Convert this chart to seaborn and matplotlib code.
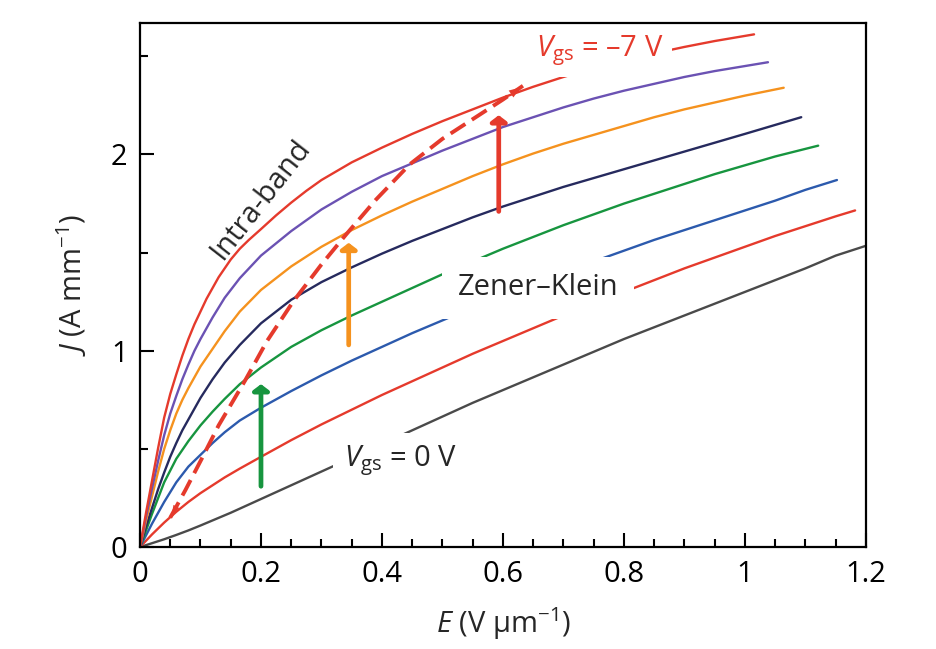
import numpy as np
import pandas as pd
import seaborn as sns
import matplotlib.pyplot as plt
from matplotlib.ticker import MultipleLocator

# J-E curves, from Vgs = 0 V (bottom) to Vgs = -7 V (top)
e_gray = [0, 0.02, 0.04, 0.06, 0.08, 0.1, 0.15, 0.2, 0.25, 0.3, 0.35, 0.4, 0.45, 0.5, 0.55, 0.6, 0.65,
          0.7, 0.75, 0.8, 0.85, 0.9, 0.95, 1.0, 1.05, 1.1, 1.15, 1.2]
j_gray = [0, 0.02, 0.04, 0.062, 0.085, 0.11, 0.175, 0.245, 0.315, 0.385, 0.455, 0.525, 0.595, 0.665, 0.735,
          0.80, 0.865, 0.93, 0.995, 1.06, 1.12, 1.18, 1.24, 1.30, 1.36, 1.42, 1.485, 1.535]

e_red1 = [0, 0.02, 0.04, 0.06, 0.08, 0.1, 0.12, 0.14, 0.165, 0.2, 0.25, 0.3, 0.35, 0.4, 0.45, 0.5, 0.55,
          0.6, 0.65, 0.7, 0.75, 0.8, 0.85, 0.9, 0.95, 1.0, 1.05, 1.1, 1.15, 1.182]
j_red1 = [0, 0.065, 0.125, 0.18, 0.23, 0.275, 0.315, 0.355, 0.40, 0.46, 0.545, 0.625, 0.70, 0.775, 0.845,
          0.915, 0.985, 1.05, 1.115, 1.18, 1.24, 1.30, 1.36, 1.42, 1.475, 1.53, 1.585, 1.635, 1.685, 1.715]

e_blue = [0, 0.02, 0.04, 0.06, 0.08, 0.1, 0.12, 0.14, 0.165, 0.2, 0.25, 0.3, 0.35, 0.4, 0.45, 0.5, 0.55,
          0.6, 0.65, 0.7, 0.75, 0.8, 0.85, 0.9, 0.95, 1.0, 1.05, 1.1, 1.152]
j_blue = [0, 0.12, 0.23, 0.33, 0.41, 0.47, 0.53, 0.585, 0.645, 0.71, 0.795, 0.875, 0.95, 1.02, 1.09, 1.155,
          1.22, 1.28, 1.34, 1.40, 1.455, 1.51, 1.565, 1.615, 1.665, 1.715, 1.765, 1.82, 1.87]

e_green = [0, 0.02, 0.04, 0.06, 0.08, 0.1, 0.12, 0.14, 0.165, 0.2, 0.25, 0.3, 0.35, 0.4, 0.45, 0.5, 0.55,
           0.6, 0.65, 0.7, 0.75, 0.8, 0.85, 0.9, 0.95, 1.0, 1.05, 1.121]
j_green = [0, 0.17, 0.33, 0.45, 0.54, 0.62, 0.69, 0.755, 0.83, 0.915, 1.02, 1.105, 1.18, 1.25, 1.32, 1.39,
           1.455, 1.52, 1.58, 1.64, 1.695, 1.75, 1.80, 1.85, 1.90, 1.945, 1.99, 2.045]

e_navy = [0, 0.01, 0.02, 0.03, 0.04, 0.05, 0.06, 0.07, 0.08, 0.09, 0.1, 0.12, 0.14, 0.165, 0.2, 0.25, 0.3,
          0.35, 0.4, 0.45, 0.5, 0.55, 0.6, 0.65, 0.7, 0.75, 0.8, 0.85, 0.9, 0.95, 1.0, 1.093]
j_navy = [0, 0.105, 0.2, 0.295, 0.38, 0.46, 0.53, 0.595, 0.65, 0.705, 0.76, 0.855, 0.94, 1.03, 1.14, 1.26,
          1.35, 1.425, 1.495, 1.56, 1.62, 1.68, 1.735, 1.785, 1.835, 1.88, 1.925, 1.97, 2.015, 2.06, 2.105, 2.19]

e_orange = [0, 0.01, 0.02, 0.03, 0.04, 0.05, 0.06, 0.07, 0.08, 0.09, 0.1, 0.12, 0.14, 0.165, 0.2, 0.25, 0.3,
            0.35, 0.4, 0.45, 0.5, 0.55, 0.6, 0.65, 0.7, 0.75, 0.8, 0.85, 0.9, 0.95, 1.0, 1.064]
j_orange = [0, 0.135, 0.26, 0.385, 0.5, 0.595, 0.68, 0.75, 0.81, 0.865, 0.92, 1.01, 1.10, 1.20, 1.31, 1.43,
            1.53, 1.615, 1.69, 1.76, 1.825, 1.89, 1.95, 2.005, 2.055, 2.10, 2.145, 2.19, 2.23, 2.265, 2.30, 2.34]

e_purple = [0, 0.01, 0.02, 0.03, 0.04, 0.05, 0.06, 0.07, 0.08, 0.09, 0.1, 0.12, 0.14, 0.165, 0.2, 0.25, 0.3,
            0.35, 0.4, 0.45, 0.5, 0.55, 0.6, 0.65, 0.7, 0.75, 0.8, 0.85, 0.9, 0.95, 1.038]
j_purple = [0, 0.155, 0.3, 0.44, 0.57, 0.68, 0.77, 0.855, 0.93, 1.0, 1.06, 1.17, 1.27, 1.37, 1.485, 1.61,
            1.72, 1.81, 1.89, 1.955, 2.02, 2.08, 2.14, 2.19, 2.24, 2.285, 2.325, 2.36, 2.395, 2.425, 2.47]

e_red7 = [0, 0.01, 0.02, 0.03, 0.04, 0.05, 0.06, 0.07, 0.08, 0.09, 0.1, 0.11, 0.12, 0.13, 0.14, 0.15, 0.165,
          0.18, 0.2, 0.225, 0.25, 0.275, 0.3, 0.35, 0.4, 0.45, 0.5, 0.55, 0.6, 0.65, 0.7, 0.75, 0.8, 0.85,
          0.9, 0.95, 1.015]
j_red7 = [0, 0.175, 0.34, 0.505, 0.66, 0.78, 0.88, 0.975, 1.06, 1.135, 1.20, 1.265, 1.32, 1.375, 1.42, 1.465,
          1.52, 1.565, 1.62, 1.69, 1.755, 1.815, 1.87, 1.96, 2.035, 2.105, 2.17, 2.23, 2.29, 2.345, 2.395, 2.44,
          2.48, 2.515, 2.548, 2.578, 2.612]

# dashed crossover line
e_dash = [0.05, 0.075, 0.102, 0.13, 0.174, 0.21, 0.253, 0.3, 0.34, 0.39, 0.446, 0.5, 0.55, 0.6, 0.633]
j_dash = [0.15, 0.29, 0.45, 0.62, 0.85, 1.05, 1.25, 1.44, 1.59, 1.77, 1.95, 2.08, 2.18, 2.28, 2.35]

# vertical arrows: x, start, end
arrow_x = [0.2, 0.345, 0.593]
arrow_y0 = [0.31, 1.03, 1.71]
arrow_y1 = [0.83, 1.55, 2.20]
arrow_colors = ['#17953f', '#f5921e', '#e53a2c']

curves = [
    (e_gray, j_gray, '#4a4a4a'),
    (e_red1, j_red1, '#e53a2c'),
    (e_blue, j_blue, '#2c5aad'),
    (e_green, j_green, '#17953f'),
    (e_navy, j_navy, '#262a5e'),
    (e_orange, j_orange, '#f5921e'),
    (e_purple, j_purple, '#6b52b3'),
    (e_red7, j_red7, '#e53a2c'),
]

sns.set_theme(style='ticks')
plt.rcParams['font.family'] = ['Open Sans', 'DejaVu Sans']
plt.rcParams['mathtext.fontset'] = 'custom'
plt.rcParams['mathtext.rm'] = 'Open Sans'
plt.rcParams['mathtext.it'] = 'Open Sans:italic'

fig = plt.figure(figsize=(9.37, 6.49), dpi=100)
ax = fig.add_axes([0.1494, 0.157, 0.7748, 0.8076])

for e, j, c in curves:
    sns.lineplot(x=e, y=j, color=c, lw=1.7, sort=False, ax=ax)

sns.lineplot(x=e_dash, y=j_dash, color='#e53a2c', lw=2.8, sort=False, ax=ax,
             dashes=False, linestyle=(0, (4.5, 2.0)))
ax.annotate('', xy=(e_dash[-1], j_dash[-1]), xytext=(e_dash[-2], j_dash[-2]),
            arrowprops=dict(arrowstyle='-|>,head_width=0.25,head_length=0.7', color='#e53a2c', lw=0))
ax.annotate('', xy=(e_dash[0], j_dash[0]), xytext=(e_dash[1], j_dash[1]),
            arrowprops=dict(arrowstyle='-|>,head_width=0.2,head_length=0.6', color='#e53a2c', lw=0))

for x, y0, y1, c in zip(arrow_x, arrow_y0, arrow_y1, arrow_colors):
    ax.annotate('', xy=(x, y1), xytext=(x, y0),
                arrowprops=dict(arrowstyle='-|>,head_width=0.4,head_length=0.3', color=c, lw=3.4,
                                shrinkA=0, shrinkB=0))

box = dict(facecolor='white', edgecolor='none', boxstyle='square,pad=0.35')
ax.text(0.658, 1.32, 'Zener–Klein', fontsize=21, ha='center', va='center', zorder=5,
        bbox=dict(facecolor='white', edgecolor='none', boxstyle='square,pad=0.55'))
ax.text(0.43, 0.44, r'$V_{\mathrm{gs}}$ = 0 V', fontsize=21, ha='center', va='center', zorder=5, bbox=box)
ax.text(0.76, 2.53, r'$V_{\mathrm{gs}}$ = –7 V', fontsize=21, ha='center', va='center', zorder=5,
        color='#e53a2c', bbox=dict(facecolor='white', edgecolor='none', boxstyle='square,pad=0.3'))
ax.text(0.2, 1.77, 'Intra-band', fontsize=21, ha='center', va='center', rotation=52)

ax.set_xlim(0, 1.2)
ax.set_ylim(0, 2.67)
ax.set_xticks([0, 0.2, 0.4, 0.6, 0.8, 1.0, 1.2])
ax.set_xticklabels(['0', '0.2', '0.4', '0.6', '0.8', '1', '1.2'])
ax.set_yticks([0, 1, 2])
ax.set_yticklabels(['0', '1', '2'])
ax.xaxis.set_minor_locator(MultipleLocator(0.05))
ax.yaxis.set_minor_locator(MultipleLocator(0.5))
ax.tick_params(which='both', direction='in', width=1.5, labelsize=21, colors='black')
ax.tick_params(which='major', length=10, pad=9)
ax.tick_params(which='minor', length=6)
for s in ax.spines.values():
    s.set_visible(True)
    s.set_linewidth(1.6)
    s.set_color('black')
    s.set_zorder(10)

ax.set_xlabel(r'$E$ (V μm$^{-1}$)', fontsize=21, labelpad=12)
ax.set_ylabel(r'$J$ (A mm$^{-1}$)', fontsize=21, labelpad=16)

fig.savefig('out.png', dpi=100)
